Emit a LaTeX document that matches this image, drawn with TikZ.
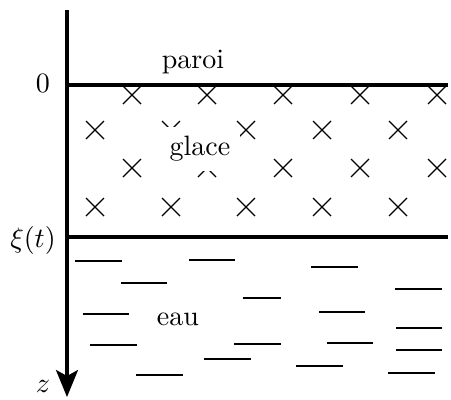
\documentclass[tikz,border=0pt]{standalone}
\usetikzlibrary{arrows.meta}
\begin{document}
\begin{tikzpicture}[x=0.357pt,y=-0.357pt,
  axisline/.style={line width=1.1pt},
  wallline/.style={line width=1.1pt},
  crossline/.style={line width=0.4pt},
  dashline/.style={line width=0.6pt},
  lbl/.style={inner sep=0pt, font=\fontsize{10}{12}\selectfont}]
\useasboundingbox (0,0) rectangle (451,399);
% axis
\coordinate (top) at (67,10);
\coordinate (bot) at (67,397);
\coordinate (w0l) at (67,85);
\coordinate (w0r) at (448,85);
\coordinate (w1l) at (67,237);
\coordinate (w1r) at (448,237);
% crosses
\foreach \y/\xs in {95/{132,207,283,360,437},130/{95,171,246,322,398},168/{132,207,283,360,437},207/{95,171,246,322,398}}{
  \foreach \x in \xs {
    \draw[crossline] (\x-9,\y-9) -- (\x+9,\y+9) (\x-9,\y+9) -- (\x+9,\y-9);
  }
}
% water dashes
\foreach \a/\b/\y in {75/122/261,189/235/260,311/358/267,121/167/283,395/442/289,243/281/298,83/129/314,319/365/312,396/442/328,90/137/345,234/281/344,327/373/343,396/442/350,204/251/359,296/343/366,136/183/375,388/435/373}{
  \draw[dashline] (\a,\y) -- (\b,\y);
}
% labels
\node[lbl] (paroi) at (193,62) {paroi};
\node[lbl, fill=white, inner sep=3.3pt] (glace) at (200,149) {glace};
\node[lbl] (eau) at (178,319) {eau};
\node[lbl] (zero) at (43,83) {$0$};
\node[lbl] (xi) at (33,240) {$\xi(t)$};
\node[lbl] (zlab) at (43,386) {$z$};
% lines
\draw[wallline] (w0l) -- (w0r);
\draw[wallline] (w1l) -- (w1r);
\draw[axisline, -{Stealth[length=27*0.357pt, width=22*0.357pt, inset=6*0.357pt]}] (top) -- (bot);
\end{tikzpicture}
\end{document}
